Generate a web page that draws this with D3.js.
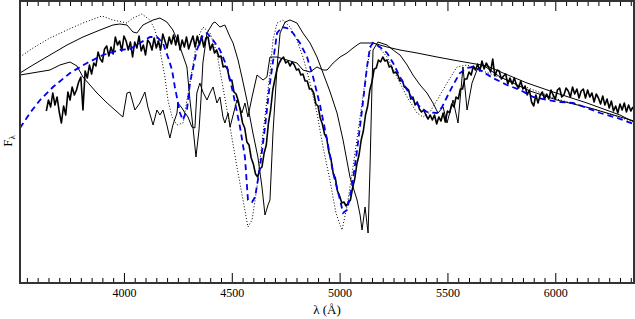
<!DOCTYPE html>
<html>
<head>
<meta charset="utf-8">
<script src="https://cdn.jsdelivr.net/npm/d3@7"></script>
<style>
  body { margin: 0; background: #fff; }
  svg { display: block; }
</style>
</head>
<body>
<div id="chart"></div>
<script>
// wavelength range of the plot (Angstrom)
var lamMin = 3518, lamMax = 6365;
var majorTicks = [4000, 4500, 5000, 5500, 6000];
var tickLabels = ["4000", "4500", "5000", "5500", "6000"];

// observed spectrum, 10 A sampling from 3640 to 6360, arbitrary flux units
var obsStart = 3640, obsStep = 10;
var obsFlux = [
  172,183,176,190,178,186,171,160,177,168,
  191,183,196,188,193,201,206,173,212,205,
  218,209,220,217,231,224,221,234,237,227,
  236,229,246,238,242,232,247,242,233,241,
  226,241,235,247,232,238,228,243,240,233,
  245,235,242,233,249,242,235,246,239,248,
  238,248,233,243,236,246,234,241,247,236,
  247,238,247,236,245,246,233,239,230,233,
  226,227,216,217,214,203,203,191,189,182,
  172,160,155,141,138,125,119,109,106,114,
  116,130,138,160,173,193,204,214,220,224,
  226,220,222,217,221,218,213,214,208,209,
  202,202,194,194,190,179,177,165,159,149,
  145,131,124,110,105,92,87,80,81,77,
  80,83,95,104,119,128,143,152,168,177,
  193,201,214,215,223,221,226,222,223,216,
  217,210,211,208,202,203,196,195,193,184,
  186,178,181,174,171,173,168,164,168,163,
  168,159,166,162,170,161,172,170,179,176,
  186,184,194,194,204,204,211,208,217,213,
  219,212,222,214,220,216,211,224,207,213,
  212,204,207,209,199,205,199,205,198,195,
  202,194,197,188,193,181,177,188,180,188,
  191,184,189,184,193,188,184,193,195,186,
  188,195,192,186,196,189,194,185,192,194,
  185,193,186,190,181,189,185,179,187,178,
  184,175,182,172,177,170,179,173,180,171,
  178,172,176
];

// model (blue dashed)
var modelLam = [3518,3564,3611,3671,3750,3829,3903,3981,4028,4074,4121,4153,4181,4204,4223,4236,4260,4273,4292,4306,4338,4366,4385,4413,4445,4478,4506,4538,4561,4575,4594,4608,4631,4654,4677,4710,4733,4756,4784,4816,4849,4877,4909,4942,4970,5002,5016,5034,5057,5081,5104,5127,5141,5155,5187,5220,5248,5280,5313,5340,5373,5405,5452,5475,5498,5526,5558,5591,5619,5651,5711,5776,5837,5897,5962,6022,6082,6147,6208,6287,6365];
var modelFlux = [155,170,183,196,210,220,228,233,234,240,246,246,240,226,213,196,170,163,173,200,233,248,250,243,233,216,190,156,126,83,81,86,116,156,200,250,256,255,250,240,226,206,178,143,110,83,70,73,96,133,173,216,236,240,236,230,220,206,193,183,176,171,170,176,186,198,210,215,216,213,205,198,193,186,183,181,180,175,170,165,159];

// comparison model (dotted)
var dotLam = [3518,3578,3657,3736,3810,3898,3949,4014,4042,4083,4121,4144,4167,4190,4204,4223,4246,4274,4306,4339,4366,4399,4431,4459,4492,4524,4552,4575,4594,4617,4645,4677,4691,4710,4737,4770,4802,4830,4863,4895,4923,4955,4983,5002,5011,5034,5062,5095,5127,5150,5173,5220,5266,5313,5359,5387,5419,5466,5498,5544,5591,5651,5790,6008,6208,6365];
var dotFlux = [226,235,245,253,260,267,263,260,265,269,263,253,233,206,183,166,158,160,200,243,256,250,230,196,156,116,83,56,63,96,150,210,243,260,263,256,243,226,200,170,136,103,70,58,53,76,116,166,216,241,238,226,206,186,170,166,171,188,200,216,218,213,202,184,172,161];

// comparison spectrum A (thin solid, upper)
var specALam = [3518,3578,3657,3736,3810,3889,3949,3981,4014,4042,4060,4088,4135,4167,4199,4227,4260,4292,4306,4320,4334,4348,4357,4366,4385,4413,4422,4445,4468,4492,4506,4529,4547,4570,4584,4598,4621,4640,4654,4668,4677,4691,4710,4724,4747,4770,4802,4830,4863,4895,4923,4956,4988,5016,5048,5081,5095,5104,5118,5132,5141,5150,5155,5178,5220,5248,5280,5313,5340,5373,5405,5433,5456,5480,5498,5526,5549,5572,5591,5614,5637,5665,5744,5883,6008,6161,6365];
var specAFlux = [210,218,228,238,246,253,258,259,258,251,250,258,263,265,261,253,236,216,183,156,126,153,183,220,250,260,261,256,258,246,240,223,206,183,166,150,126,96,68,78,83,150,216,250,261,263,260,250,240,226,210,191,170,143,106,83,68,53,76,50,116,196,233,241,238,233,228,218,208,198,190,180,170,176,160,183,160,216,173,200,213,218,206,192,183,175,162];

// comparison spectrum B (thin solid, lower jagged)
var specBLam = [3518,3657,3703,3750,3782,3810,3875,3922,3995,4014,4028,4051,4074,4097,4111,4135,4153,4167,4181,4199,4213,4227,4246,4250,4269,4283,4297,4315,4329,4338,4352,4366,4385,4399,4413,4431,4445,4459,4468,4483,4492,4524,4547,4561,4575,4594,4617,4645,4663,4677,4710,4756,4802,4830,4863,4895,4923,4942,4970,5002,5034,5062,5095,5155,5220,5280,5359,5452,5526,5605,5684,5758,5869,5990,6147,6300,6365];
var specBFlux = [208,213,218,221,217,206,190,180,166,190,191,173,180,191,176,158,173,168,173,158,145,158,170,180,175,170,166,156,155,190,200,191,183,190,196,180,186,166,160,170,156,183,170,180,166,186,208,203,206,226,226,223,220,213,211,216,213,213,220,226,230,235,240,240,236,233,230,226,223,220,217,210,200,191,180,168,161];

var margin = {top: 1, right: 1, bottom: 36, left: 20},
    width = 635 - margin.left - margin.right,
    height = 319 - margin.top - margin.bottom;

var svg = d3.select("#chart")
  .append("svg")
    .attr("width", width + margin.left + margin.right)
    .attr("height", height + margin.top + margin.bottom)
  .append("g")
    .attr("transform", "translate(" + margin.left + "," + margin.top + ")");

var x = d3.scaleLinear().domain([lamMin, lamMax]).range([0, width]);
var y = d3.scaleLinear().domain([0, 282]).range([height, 0]);

svg.append("clipPath").attr("id", "clip")
  .append("rect").attr("width", width).attr("height", height);

var line = d3.line()
  .x(function(d) { return x(d[0]); })
  .y(function(d) { return y(d[1]); });

function pairs(lam, flux) {
  return lam.map(function(l, i) { return [l, flux[i]]; });
}

var obs = obsFlux.map(function(f, i) { return [obsStart + i * obsStep, f]; });

var plot = svg.append("g").attr("clip-path", "url(#clip)");

// thin comparison spectra
plot.append("path")
  .datum(pairs(specALam, specAFlux))
  .attr("d", line)
  .attr("fill", "none").attr("stroke", "#000").attr("stroke-width", 1);

plot.append("path")
  .datum(pairs(specBLam, specBFlux))
  .attr("d", line)
  .attr("fill", "none").attr("stroke", "#000").attr("stroke-width", 1);

plot.append("path")
  .datum(pairs(dotLam, dotFlux))
  .attr("d", line)
  .attr("fill", "none").attr("stroke", "#000").attr("stroke-width", 1)
  .attr("stroke-dasharray", "1,2");

// observed
plot.append("path")
  .datum(obs)
  .attr("d", line)
  .attr("fill", "none").attr("stroke", "#000").attr("stroke-width", 1.6)
  .attr("stroke-linejoin", "round");

// model
plot.append("path")
  .datum(pairs(modelLam, modelFlux))
  .attr("d", line)
  .attr("fill", "none").attr("stroke", "#0000ee").attr("stroke-width", 1.8)
  .attr("stroke-dasharray", "6,4");

// minor ticks every 50 A
var minor = d3.range(3550, lamMax, 50).filter(function(v) { return v % 500 != 0; });

function styleAxis(g) {
  g.select(".domain").remove();
  g.selectAll("line").attr("stroke", "#000").attr("stroke-width", 1);
}

svg.append("g")
  .attr("transform", "translate(0," + height + ")")
  .call(d3.axisBottom(x).tickValues(majorTicks).tickSize(-10).tickPadding(5)
    .tickFormat(function(d, i) { return tickLabels[i]; }))
  .call(styleAxis)
  .call(function(g) {
    g.selectAll("text").attr("font-family", "Liberation Serif, serif")
      .attr("font-size", "12px").attr("fill", "#000");
  });

svg.append("g")
  .attr("transform", "translate(0," + height + ")")
  .call(d3.axisBottom(x).tickValues(minor).tickSize(-5).tickFormat(""))
  .call(styleAxis);

svg.append("g")
  .call(d3.axisTop(x).tickValues(majorTicks).tickSize(-10).tickFormat(""))
  .call(styleAxis);

svg.append("g")
  .call(d3.axisTop(x).tickValues(minor).tickSize(-5).tickFormat(""))
  .call(styleAxis);

// frame
svg.append("rect")
  .attr("width", width).attr("height", height)
  .attr("fill", "none").attr("stroke", "#333").attr("stroke-width", 2);

// X axis label
svg.append("text")
  .attr("text-anchor", "middle")
  .attr("x", width / 2)
  .attr("y", height + 31)
  .attr("font-family", "Liberation Serif, serif")
  .attr("font-size", "13px")
  .text("λ (Å)");

// Y axis label
var yl = svg.append("text")
  .attr("text-anchor", "middle")
  .attr("transform", "translate(-8," + 140 + ") rotate(-90)")
  .attr("font-family", "Liberation Serif, serif")
  .attr("font-size", "13px");
yl.append("tspan").text("F");
yl.append("tspan").attr("dy", "3").attr("font-size", "9px").text("λ");
</script>
</body>
</html>
